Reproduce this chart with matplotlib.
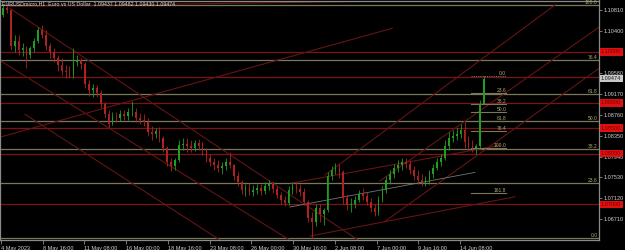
import matplotlib
matplotlib.use("Agg")
import matplotlib.pyplot as plt
import matplotlib.transforms as mtransforms

# ---------------- data (EURUSD, 6-hour aggregated candles from 4 May 2023 00:00, H1 bar index = 6k+3) ----
open_first = 1.1072
highs = [1.1091, 1.1095, 1.1081, 1.1032, 1.1032, 1.1018, 1.1012, 1.1012, 1.1026, 1.1048,
         1.1052, 1.1042, 1.1018, 1.1007, 1.0993, 1.0987, 1.0973, 1.0971, 1.1007, 1.0993,
         1.0987, 1.0979, 1.0944, 1.0936, 1.0934, 1.0924, 1.0901, 1.0885, 1.0881, 1.0881,
         1.0885, 1.0885, 1.0889, 1.0903, 1.0889, 1.0879, 1.0877, 1.0869, 1.0854, 1.0850,
         1.0852, 1.0834, 1.0814, 1.0791, 1.0791, 1.0826, 1.0830, 1.0830, 1.0826, 1.0826,
         1.0828, 1.0822, 1.0811, 1.0799, 1.0791, 1.0787, 1.0783, 1.0791, 1.0803, 1.0779,
         1.0764, 1.0748, 1.0740, 1.0742, 1.0738, 1.0740, 1.0740, 1.0744, 1.0748, 1.0746,
         1.0736, 1.0724, 1.0716, 1.0736, 1.0744, 1.0744, 1.0740, 1.0732, 1.0709, 1.0685,
         1.0701, 1.0701, 1.0693, 1.0764, 1.0775, 1.0781, 1.0779, 1.0767, 1.0720, 1.0713,
         1.0716, 1.0728, 1.0732, 1.0724, 1.0713, 1.0701, 1.0716, 1.0736, 1.0756, 1.0767,
         1.0779, 1.0787, 1.0791, 1.0791, 1.0787, 1.0775, 1.0767, 1.0760, 1.0756, 1.0767,
         1.0779, 1.0791, 1.0799, 1.0826, 1.0842, 1.0846, 1.0850, 1.0858, 1.0861, 1.0834,
         1.0826, 1.0818, 1.0905, 1.0952]
lows = [1.1069, 1.1077, 1.1003, 1.0999, 1.0993, 1.0991, 1.0969, 1.0987, 1.0999, 1.1018,
        1.1026, 1.1003, 1.0987, 1.0979, 1.0963, 1.0954, 1.0948, 1.0948, 1.0948, 1.0971,
        1.0967, 1.0928, 1.0914, 1.0912, 1.0911, 1.0889, 1.0869, 1.0850, 1.0856, 1.0861,
        1.0863, 1.0865, 1.0865, 1.0873, 1.0861, 1.0858, 1.0854, 1.0834, 1.0826, 1.0830,
        1.0822, 1.0803, 1.0775, 1.0765, 1.0767, 1.0783, 1.0807, 1.0803, 1.0803, 1.0805,
        1.0807, 1.0797, 1.0783, 1.0775, 1.0767, 1.0764, 1.0760, 1.0767, 1.0771, 1.0748,
        1.0736, 1.0720, 1.0716, 1.0718, 1.0716, 1.0720, 1.0718, 1.0720, 1.0728, 1.0722,
        1.0713, 1.0701, 1.0697, 1.0699, 1.0720, 1.0722, 1.0716, 1.0699, 1.0665, 1.0634,
        1.0658, 1.0665, 1.0660, 1.0685, 1.0748, 1.0760, 1.0752, 1.0701, 1.0689, 1.0685,
        1.0693, 1.0705, 1.0709, 1.0699, 1.0685, 1.0677, 1.0679, 1.0705, 1.0722, 1.0740,
        1.0752, 1.0764, 1.0767, 1.0771, 1.0760, 1.0748, 1.0740, 1.0736, 1.0736, 1.0740,
        1.0752, 1.0767, 1.0775, 1.0787, 1.0807, 1.0822, 1.0826, 1.0830, 1.0811, 1.0807,
        1.0803, 1.0799, 1.0811, 1.0897]
closes = [1.1085, 1.1081, 1.1012, 1.1022, 1.1003, 1.1007, 1.0993, 1.1007, 1.1022, 1.1042,
          1.1032, 1.1012, 1.0999, 1.0987, 1.0973, 1.0963, 1.0960, 1.0956, 1.0979, 1.0983,
          1.0975, 1.0936, 1.0924, 1.0928, 1.0918, 1.0897, 1.0877, 1.0858, 1.0871, 1.0869,
          1.0877, 1.0873, 1.0881, 1.0881, 1.0869, 1.0865, 1.0861, 1.0842, 1.0838, 1.0844,
          1.0830, 1.0811, 1.0783, 1.0775, 1.0787, 1.0816, 1.0818, 1.0814, 1.0811, 1.0820,
          1.0814, 1.0807, 1.0791, 1.0783, 1.0777, 1.0771, 1.0775, 1.0783, 1.0777, 1.0756,
          1.0744, 1.0728, 1.0732, 1.0724, 1.0728, 1.0732, 1.0726, 1.0736, 1.0740, 1.0730,
          1.0718, 1.0709, 1.0703, 1.0728, 1.0736, 1.0730, 1.0724, 1.0705, 1.0673, 1.0665,
          1.0693, 1.0681, 1.0689, 1.0756, 1.0767, 1.0771, 1.0764, 1.0713, 1.0699, 1.0701,
          1.0709, 1.0720, 1.0716, 1.0705, 1.0693, 1.0685, 1.0709, 1.0728, 1.0748, 1.0760,
          1.0771, 1.0777, 1.0783, 1.0779, 1.0767, 1.0756, 1.0748, 1.0744, 1.0748, 1.0760,
          1.0771, 1.0783, 1.0791, 1.0814, 1.0830, 1.0834, 1.0838, 1.0846, 1.0822, 1.0814,
          1.0811, 1.0814, 1.0897, 1.0947]
bars_per_candle = 6

# date axis (H1 bar index) and labels
date_ticks = [0, 64, 128, 192, 256, 320, 384, 448, 512, 576, 640, 704]
date_labels = ["4 May 2023", "8 May 16:00", "11 May 08:00", "16 May 00:00", "18 May 16:00",
               "23 May 08:00", "26 May 00:00", "30 May 16:00", "2 Jun 08:00", "7 Jun 00:00",
               "9 Jun 16:00", "14 Jun 08:00"]
price_ticks = [1.10810, 1.10400, 1.09990, 1.09580, 1.09170, 1.08760, 1.08350,
               1.07940, 1.07530, 1.07120, 1.06710]

# horizontal levels
red_levels = [1.1000, 1.0950, 1.0900, 1.0850, 1.0800, 1.0700]
red_level_boxes = [1.1000, 1.0900, 1.0850, 1.0800, 1.0700]
last_price = 1.09474

# big Fibonacci
fib_low, fib_high = 1.0635, 1.1092
fib_levels = [0.0, 23.6, 38.2, 50.0, 61.8, 76.4, 100.0]
# small Fibonacci (H1 bar range)
sfib_top, sfib_bottom = 1.0952, 1.0810
sfib_levels = [0.0, 23.6, 38.2, 50.0, 61.8, 76.4, 100.0, 161.8]
sfib_bar0, sfib_bar1 = 721, 775

# trend lines: ((bar, price), (bar, price))
red_trendlines = [
    ((14, 1.1089), (566, 1.1099)),
    ((-2, 1.0832), (600, 1.1046)),
    ((14, 1.1085), (548, 1.0630)),
    ((-2, 1.0983), (443, 1.0630)),
    ((37, 1.0877), (336, 1.0630)),
    ((497, 1.0758), (851, 1.1093)),
    ((581, 1.0746), (917, 1.1048)),
    ((589, 1.0667), (917, 1.0967)),
    ((446, 1.0742), (765, 1.0816)),
    ((474, 1.0638), (788, 1.0715)),
]
gray_trendlines = [((443, 1.0695), (727, 1.0763))]

# ---------------- figure ----------------
W, H = 625, 250
fig = plt.figure(figsize=(W / 100, H / 100), dpi=100, facecolor="black")
ax = fig.add_axes([0.0 / W, 10 / H, 599 / W, 239.5 / H])
ax.set_facecolor("black")
ax.set_xlim(-1.53, 917.2)
ax.set_ylim(1.06302, 1.11006)

FONT = "Liberation Sans"
RED = "#7a1414"
DRED = "#661414"
OLIVE = "#7a7858"
FIBTXT = "#b0aa78"
UP = "#1f9f1f"
DOWN = "#b02222"

# horizontal red lines
for lv in red_levels:
    ax.axhline(lv, color=RED, lw=0.9, zorder=1)

# big fib lines
for lvl in fib_levels:
    p = fib_low + (fib_high - fib_low) * lvl / 100.0
    ax.axhline(p, color=OLIVE, lw=0.9, zorder=1)

# trend lines
for (b0, p0), (b1, p1) in red_trendlines:
    ax.plot([b0, b1], [p0, p1], color=DRED, lw=0.8, zorder=1.5)
for (b0, p0), (b1, p1) in gray_trendlines:
    ax.plot([b0, b1], [p0, p1], color="#767676", lw=0.6, zorder=1.5)

# small fib
for lvl in sfib_levels:
    p = sfib_top - (sfib_top - sfib_bottom) * lvl / 100.0
    ls = (0, (1, 1)) if lvl == 0.0 else "-"
    ax.plot([sfib_bar0, sfib_bar1], [p, p], color=OLIVE, lw=0.8, ls=ls, zorder=1.6)
    ax.text(sfib_bar1, p, f"{lvl:.1f}", color=FIBTXT, fontsize=3.6, family=FONT,
            ha="right", va="bottom", zorder=4)

# candles
opens = [open_first] + closes[:-1]
for k in range(len(closes)):
    x = bars_per_candle * k + bars_per_candle / 2
    o, c, h, l = opens[k], closes[k], highs[k], lows[k]
    col = UP if c >= o else DOWN
    ax.vlines(x, l, h, color=col, lw=0.6, zorder=3)
    lo, hi = min(o, c), max(o, c)
    if hi - lo < 0.00008:
        hi = lo + 0.00008
    ax.bar(x, hi - lo, bottom=lo, width=2.6, color=col, edgecolor="none", zorder=3)

# fib labels at right edge
tr = mtransforms.blended_transform_factory(ax.transAxes, ax.transData)
for lvl in fib_levels:
    p = fib_low + (fib_high - fib_low) * lvl / 100.0
    ax.text(0.998, p, f"{lvl:.1f}", transform=tr, color=FIBTXT, fontsize=3.6, family=FONT,
            ha="right", va="bottom", zorder=4)

# axes styling
for s in ax.spines.values():
    s.set_color("#8a8a8a")
    s.set_linewidth(0.9)
ax.yaxis.tick_right()
ax.set_yticks(price_ticks)
# the 1.09990 label sits under the 1.10000 red box in the reference, so it is left blank
ax.set_yticklabels(["" if abs(p - 1.09990) < 1e-9 else f"{p:.5f}" for p in price_ticks])
ax.tick_params(axis="y", colors="#8a8a8a", labelcolor="#d0d0d0", labelsize=4,
               length=2, width=0.6, pad=1.5)
ax.set_xticks(date_ticks)
ax.set_xticklabels(date_labels)
ax.tick_params(axis="x", colors="#8a8a8a", labelcolor="#d0d0d0", labelsize=4,
               length=3, width=0.6, pad=1)
for lab in ax.get_xticklabels() + ax.get_yticklabels():
    lab.set_family(FONT)
for lab in ax.get_xticklabels():
    lab.set_ha("left")

# red price boxes and last-price box
for lv in red_level_boxes:
    ax.text(1.0 + 2 / 599, lv, f"{lv:.5f}", transform=tr, color="#7a0000", fontsize=4,
            family=FONT, ha="left", va="center", zorder=6, clip_on=False,
            bbox=dict(boxstyle="square,pad=0.25", fc="#e01010", ec="none"))
ax.text(1.0 + 2 / 599, last_price, f"{last_price:.5f}", transform=tr, color="#202020",
        fontsize=4, family=FONT, ha="left", va="center", zorder=6, clip_on=False,
        bbox=dict(boxstyle="square,pad=0.25", fc="#c8c8c8", ec="none"))

# header text
ax.text(0.004, 0.995, "EURUSDmicro,H1  Euro vs US Dollar  1.09437 1.09482 1.09430 1.09474",
        transform=ax.transAxes, color="#d8d8d8", fontsize=3.8, family=FONT,
        ha="left", va="top", zorder=6)

fig.savefig("out.png", dpi=100, facecolor="black")
